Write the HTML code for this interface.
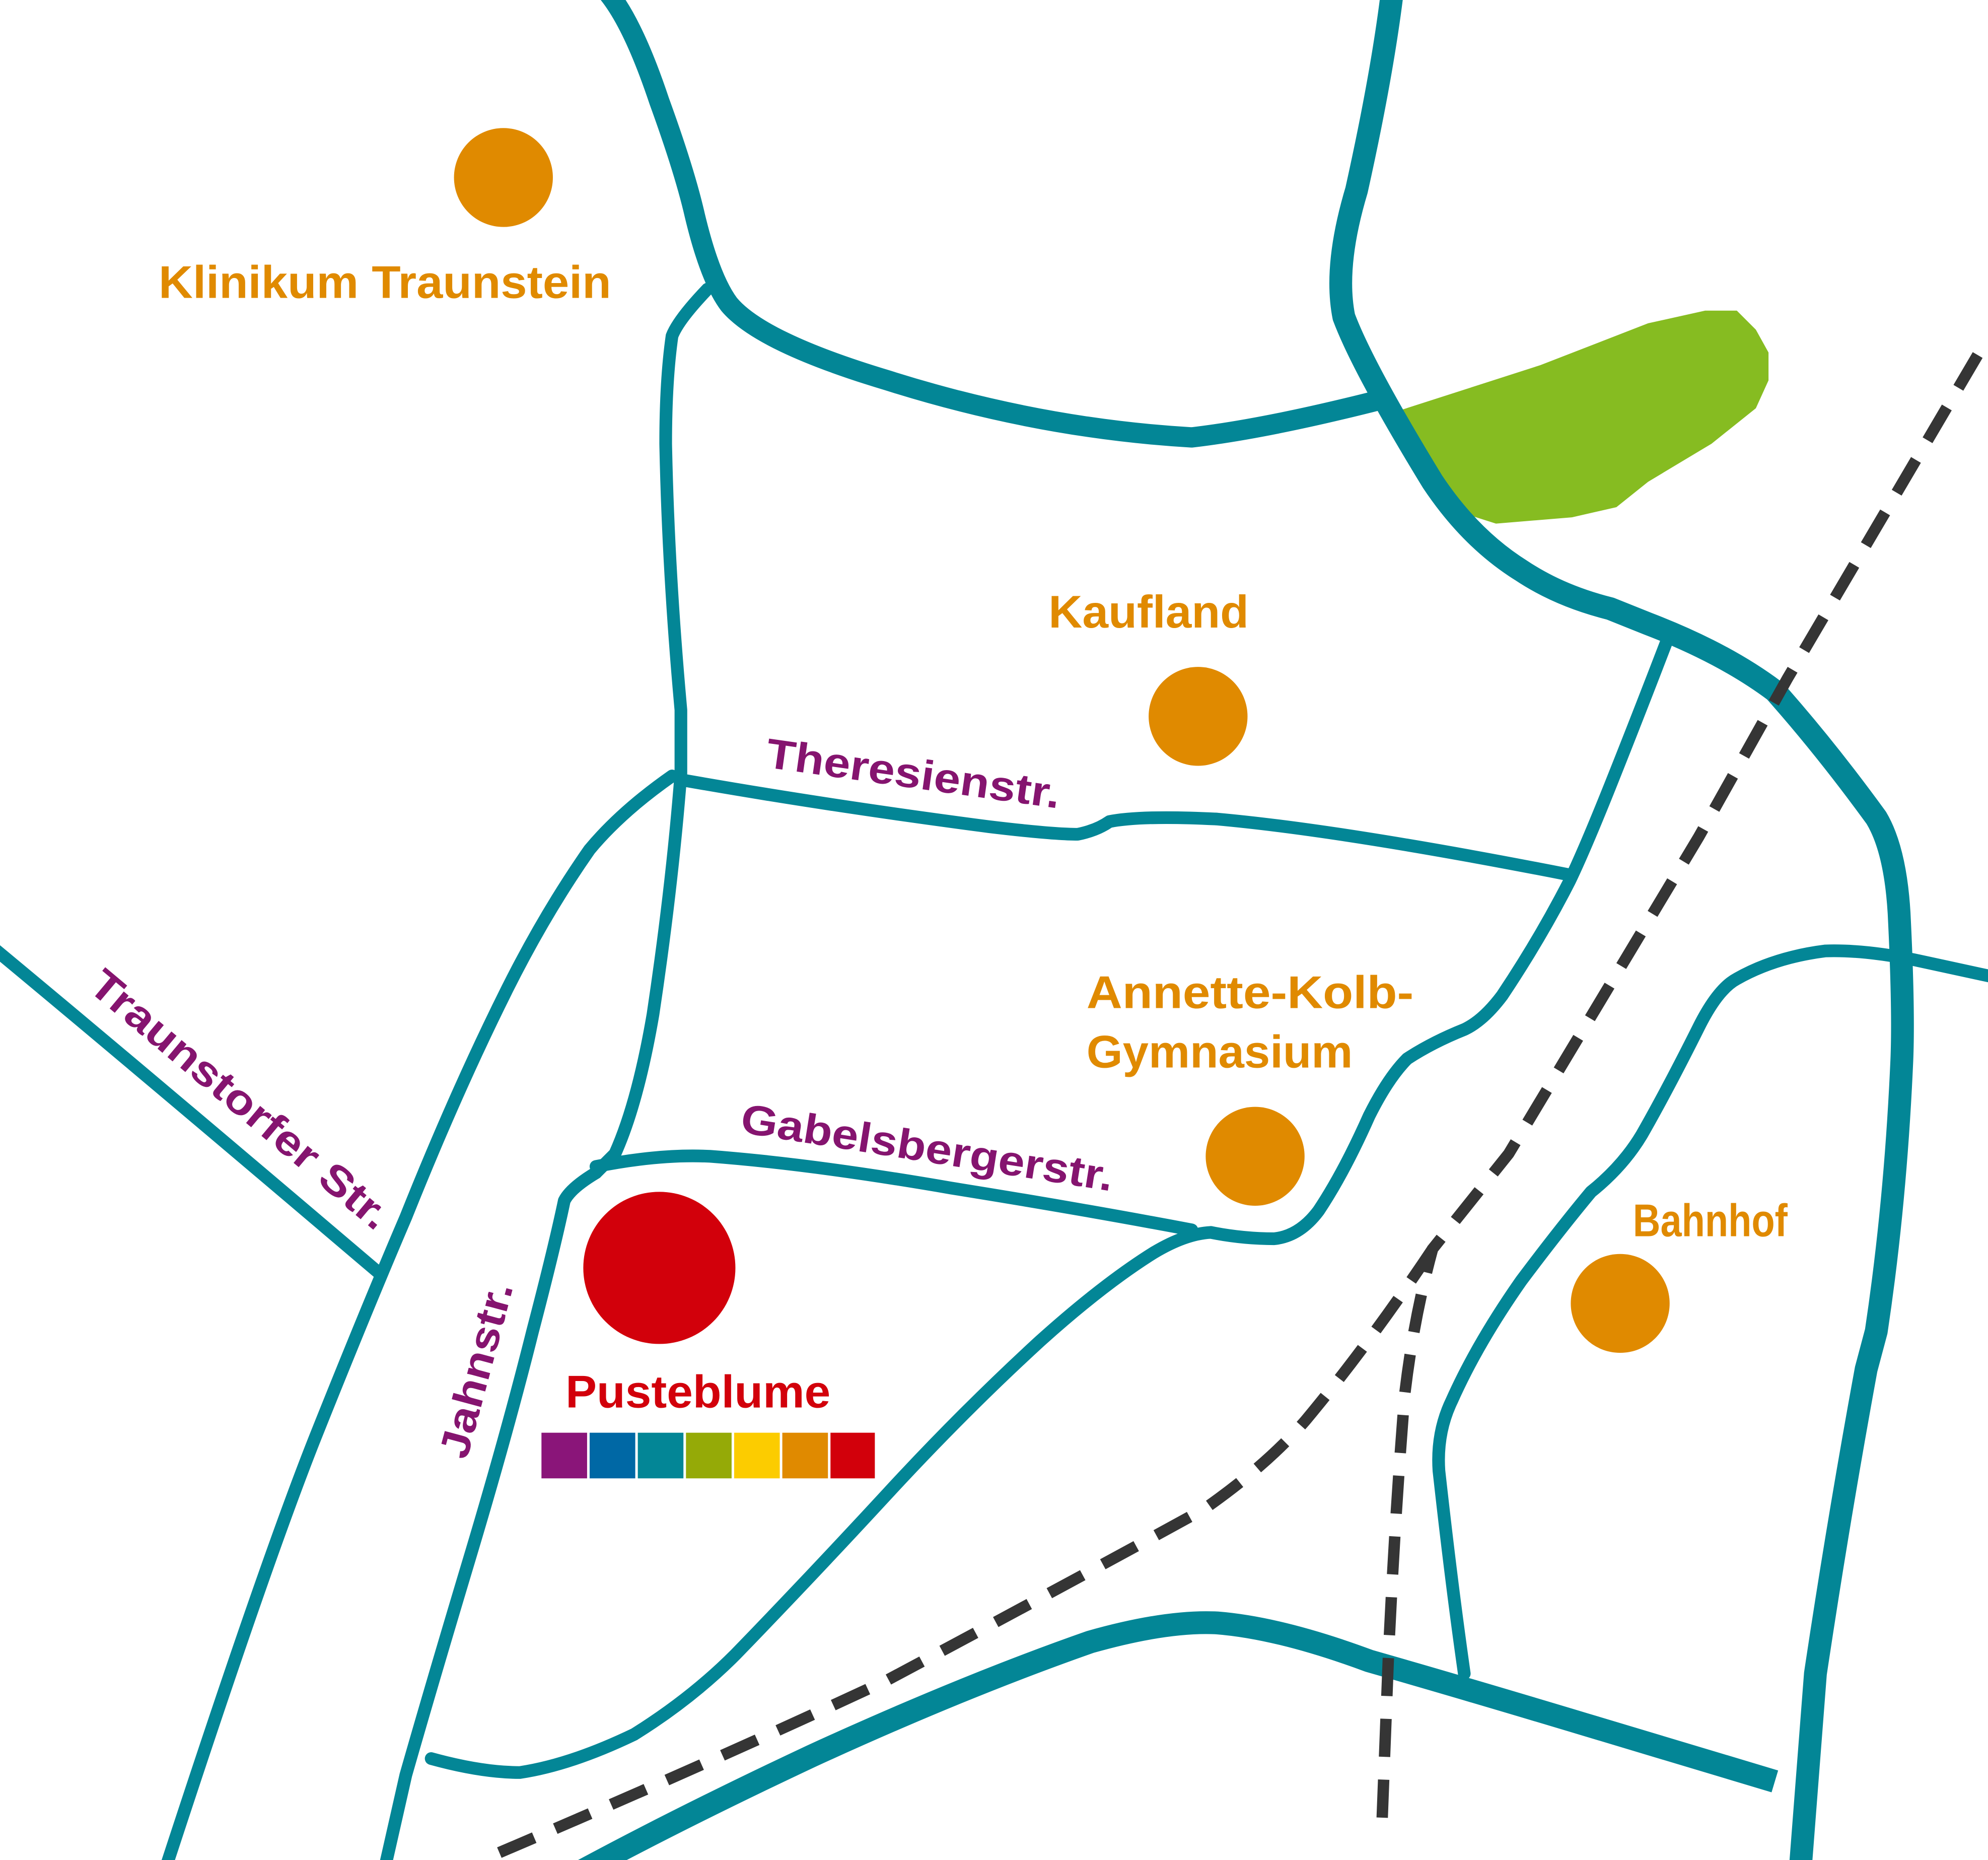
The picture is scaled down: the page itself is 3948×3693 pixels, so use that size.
<!DOCTYPE html>
<html><head><meta charset="utf-8"><style>html,body{margin:0;padding:0;background:#fff}svg{display:block}</style></head>
<body>
<svg width="3948" height="3693" viewBox="0 0 1568 1467" xmlns="http://www.w3.org/2000/svg">
<rect width="1568" height="1467" fill="#fff"/>
<polygon fill="#86bc21" points="1100,325 1215,288 1300,255 1345,245 1370,245 1385,260 1395,278 1395,300 1385,322 1350,350 1300,380 1275,400 1240,408 1180,413 1155,405 1130,370"/>
<g fill="none" stroke="#038696" stroke-linecap="round" stroke-linejoin="round">
<path stroke-width="16" d="M480,-5 Q500,20 520,80 Q540,135 548,170 Q560,220 575,240 Q600,270 700,300 Q820,338 940,345 Q1000,338 1090,315"/>
<path stroke-width="18" d="M1098,-5 Q1090,60 1070,150 Q1052,210 1060,250 Q1075,290 1130,380 Q1160,425 1200,450 Q1230,470 1270,480 L1300,492 Q1360,515 1400,545 Q1440,590 1480,645 Q1495,670 1498,720 Q1502,800 1500,840 Q1495,950 1480,1050 L1472,1080 Q1450,1200 1432,1320 L1420,1475"/>
<path stroke-width="10" d="M558,228 Q535,252 530,265 Q525,300 525,350 Q527,450 537,560 L537,610 Q530,700 515,800 Q503,870 485,910 L470,925"/>
<path stroke-width="10" d="M537,615 Q650,635 780,652 Q830,658 850,658 Q865,655 875,648 Q900,643 960,646 Q1060,655 1238,690"/>
<path stroke-width="10" d="M530,612 Q490,640 465,670 Q430,720 400,780 Q360,860 320,960 Q290,1030 250,1130 Q210,1230 130,1475"/>
<path stroke-width="10" d="M-5,748 Q100,835 300,1005"/>
<path stroke-width="10" d="M470,925 Q450,937 445,947 Q437,985 420,1050 Q400,1130 370,1230 Q340,1330 320,1400 L303,1475"/>
<path stroke-width="10" d="M470,920 Q520,910 560,912 Q640,918 750,937 Q850,953 940,970"/>
<path stroke-width="10" d="M1315,505 Q1290,570 1270,620 Q1250,670 1238,695 Q1215,740 1185,785 Q1170,805 1155,812 Q1130,822 1110,835 Q1095,850 1080,880 Q1060,925 1040,955 Q1025,975 1005,977 Q980,977 955,972 Q935,973 910,988 Q870,1013 820,1058 Q760,1113 700,1178 Q640,1243 580,1305 Q545,1340 500,1368 Q450,1392 410,1398 Q380,1398 340,1387"/>
<path stroke-width="18" stroke-linecap="butt" d="M460,1475 Q540,1432 640,1385 Q760,1330 860,1295 Q920,1278 960,1280 Q1010,1284 1080,1310 Q1150,1330 1250,1360 L1400,1405"/>
<path stroke-width="10" d="M1155,1320 Q1145,1250 1135,1160 Q1133,1130 1145,1105 Q1165,1060 1200,1010 Q1230,970 1255,940 Q1280,920 1295,895 Q1315,860 1340,810 Q1355,780 1370,772 Q1400,755 1440,750 Q1470,749 1510,757 L1570,770"/>
</g>
<g fill="none" stroke="#353535" stroke-width="9" stroke-dasharray="30,18">
<path d="M1560,280 L1410,535 L1340,660 L1280,760 L1190,910 L1130,985 Q1115,1040 1108,1100 Q1100,1200 1095,1310 L1090,1440"/>
<path d="M1130,985 Q1080,1060 1030,1120 Q1000,1155 950,1190 Q850,1245 700,1325 Q550,1395 380,1467"/>
</g>
<g fill="#e08a00">
<circle cx="397" cy="140" r="39"/><circle cx="945" cy="565" r="39"/><circle cx="990" cy="912" r="39"/><circle cx="1278" cy="1028" r="39"/>
</g>
<circle cx="520" cy="1000" r="60" fill="#d2000b"/>
<g font-family="Liberation Sans, sans-serif" font-size="36" font-weight="bold" fill="#e08a00" lengthAdjust="spacingAndGlyphs">
<text x="125" y="235" textLength="357" lengthAdjust="spacingAndGlyphs">Klinikum Traunstein</text>
<text x="827" y="495" textLength="158" lengthAdjust="spacingAndGlyphs">Kaufland</text>
<text x="857" y="795" textLength="258" lengthAdjust="spacingAndGlyphs">Annette-Kolb-</text>
<text x="857" y="842" textLength="210" lengthAdjust="spacingAndGlyphs">Gymnasium</text>
<text x="1288" y="975" textLength="122" lengthAdjust="spacingAndGlyphs">Bahnhof</text>
<text x="446" y="1110" fill="#d2000b" textLength="209" lengthAdjust="spacingAndGlyphs">Pusteblume</text>
</g>
<g font-family="Liberation Sans, sans-serif" font-size="33" font-weight="bold" fill="#85146f">
<text transform="translate(603,605) rotate(8)" textLength="234" lengthAdjust="spacingAndGlyphs">Theresienstr.</text>
<text transform="translate(583,893) rotate(9)" textLength="297" lengthAdjust="spacingAndGlyphs">Gabelsbergerstr.</text>
<text transform="translate(68,780) rotate(40)" textLength="298" lengthAdjust="spacingAndGlyphs">Traunstorfer Str.</text>
<text transform="translate(368,1152) rotate(-75)" textLength="142" lengthAdjust="spacingAndGlyphs">Jahnstr.</text>
</g>
<g>
<rect x="427" y="1130" width="36" height="36" fill="#8a1579"/>
<rect x="465" y="1130" width="36" height="36" fill="#0068a5"/>
<rect x="503" y="1130" width="36" height="36" fill="#038696"/>
<rect x="541" y="1130" width="36" height="36" fill="#95aa07"/>
<rect x="579" y="1130" width="36" height="36" fill="#fccc00"/>
<rect x="617" y="1130" width="36" height="36" fill="#e08a00"/>
<rect x="655" y="1130" width="35" height="36" fill="#d2000b"/>
</g>
</svg>
</body></html>
